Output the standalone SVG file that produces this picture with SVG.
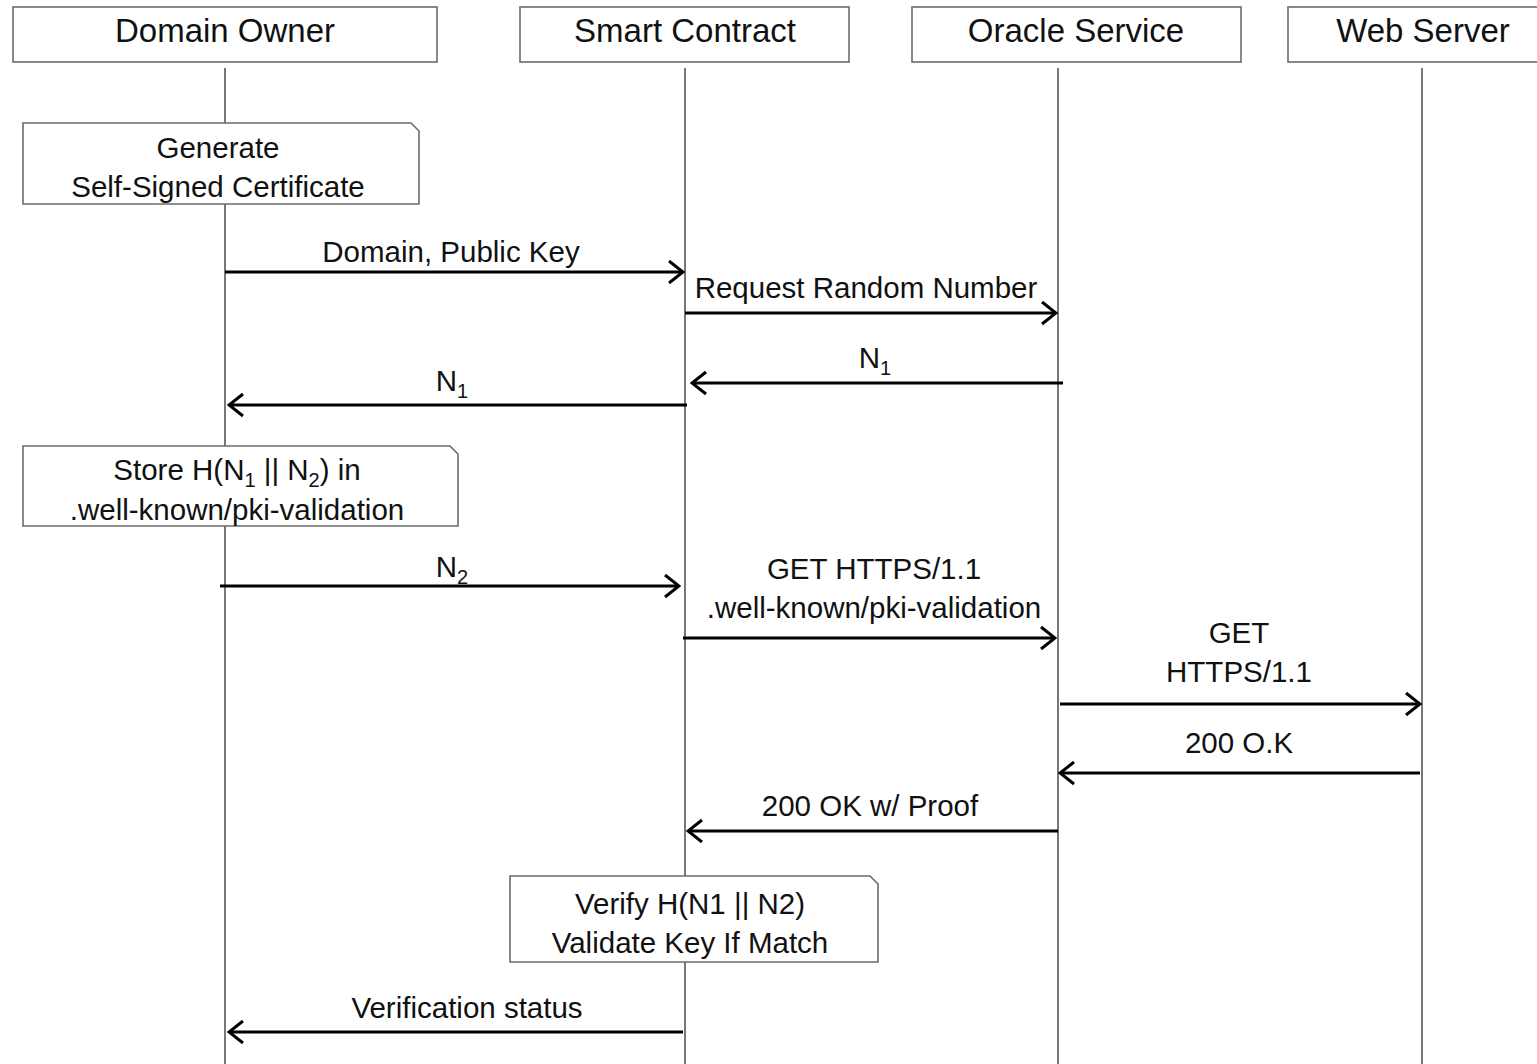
<svg xmlns="http://www.w3.org/2000/svg" width="1537" height="1064" viewBox="0 0 1537 1064">
<style>
text{font-family:"Liberation Sans",Arial,sans-serif;fill:#111;text-anchor:middle}
.h{font-size:33px}
.t{font-size:29.5px}
.sub{font-size:20px}
.box{fill:#fff;stroke:#6b6b6b;stroke-width:1.6}
.life{stroke:#555;stroke-width:1.6;fill:none}
.msg{stroke:#000;stroke-width:3;fill:none;marker-end:url(#ah)}
</style>
<defs>
<marker id="ah" viewBox="-17 -14 19 28" markerWidth="19" markerHeight="28" refX="0" refY="0" orient="auto" markerUnits="userSpaceOnUse">
<path d="M-14,-11 L0,0 L-14,11" fill="none" stroke="#000" stroke-width="3"/>
</marker>
</defs>
<rect width="1537" height="1064" fill="#fff"/>
<g id="lifelines">
<line class="life" x1="225" y1="68" x2="225" y2="1064"/>
<line class="life" x1="685" y1="68" x2="685" y2="1064"/>
<line class="life" x1="1058" y1="68" x2="1058" y2="1064"/>
<line class="life" x1="1422" y1="68" x2="1422" y2="1064"/>
</g>
<g id="domain-owner"><rect class="box" x="13" y="7" width="424" height="55"/><text class="h" x="225" y="42">Domain Owner</text></g>
<g id="smart-contract"><rect class="box" x="520" y="7" width="329" height="55"/><text class="h" x="685" y="42">Smart Contract</text></g>
<g id="oracle-service"><rect class="box" x="912" y="7" width="329" height="55"/><text class="h" x="1076" y="42">Oracle Service</text></g>
<g id="web-server"><rect class="box" x="1288" y="7" width="260" height="55"/><text class="h" x="1423" y="42">Web Server</text></g>
<g id="note-generate"><path class="box" d="M23,123 H411 L419,131 V204 H23 Z"/><text class="t" x="218" y="158">Generate</text><text class="t" x="218" y="197">Self-Signed Certificate</text></g>
<g id="note-store"><path class="box" d="M23,446 H450 L458,454 V526 H23 Z"/><text class="t" x="237" y="480">Store H(N<tspan class="sub" dy="7">1</tspan><tspan dy="-7"> || N</tspan><tspan class="sub" dy="7">2</tspan><tspan dy="-7">) in</tspan></text><text class="t" x="237" y="520">.well-known/pki-validation</text></g>
<g id="note-verify"><path class="box" d="M510,876 H870 L878,884 V962 H510 Z"/><text class="t" x="690" y="914">Verify H(N1 || N2)</text><text class="t" x="690" y="953">Validate Key If Match</text></g>
<g id="connectors">
<line class="msg" x1="225" y1="272" x2="683" y2="272"/>
<line class="msg" x1="685" y1="313" x2="1056" y2="313"/>
<line class="msg" x1="1063" y1="383" x2="692" y2="383"/>
<line class="msg" x1="687" y1="405" x2="229" y2="405"/>
<line class="msg" x1="220" y1="586" x2="679" y2="586"/>
<line class="msg" x1="683" y1="638" x2="1055" y2="638"/>
<line class="msg" x1="1060" y1="704" x2="1420" y2="704"/>
<line class="msg" x1="1420" y1="773" x2="1060" y2="773"/>
<line class="msg" x1="1058" y1="831" x2="688" y2="831"/>
<line class="msg" x1="683" y1="1032" x2="229" y2="1032"/>
</g>
<g id="labels">
<text class="t" x="451" y="262">Domain, Public Key</text>
<text class="t" x="866" y="298">Request Random Number</text>
<text class="t" x="875" y="368">N<tspan class="sub" dy="7">1</tspan></text>
<text class="t" x="452" y="391">N<tspan class="sub" dy="7">1</tspan></text>
<text class="t" x="452" y="577">N<tspan class="sub" dy="7">2</tspan></text>
<text class="t" x="874" y="579">GET HTTPS/1.1</text>
<text class="t" x="874" y="618">.well-known/pki-validation</text>
<text class="t" x="1239" y="643">GET</text>
<text class="t" x="1239" y="682">HTTPS/1.1</text>
<text class="t" x="1239" y="753">200 O.K</text>
<text class="t" x="870" y="816">200 OK w/ Proof</text>
<text class="t" x="467" y="1018">Verification status</text>
</g>
</svg>
